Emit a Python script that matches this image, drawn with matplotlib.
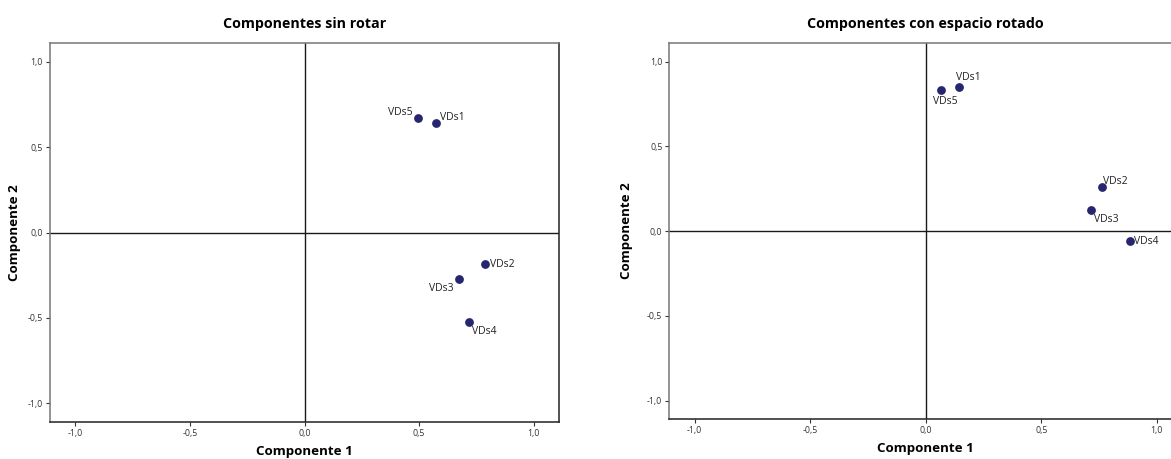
import matplotlib.pyplot as plt

plt.rcParams['font.family'] = ['Open Sans', 'DejaVu Sans']

labels = ["VDs1", "VDs2", "VDs3", "VDs4", "VDs5"]

# component loadings
sin_rotar_c1 = [0.574, 0.785, 0.675, 0.718, 0.497]
sin_rotar_c2 = [0.643, -0.182, -0.273, -0.522, 0.669]

rotado_c1 = [0.144, 0.761, 0.716, 0.884, 0.066]
rotado_c2 = [0.848, 0.260, 0.126, -0.061, 0.830]

ticks = [-1.0, -0.5, 0.0, 0.5, 1.0]
tick_labels = ["-1,0", "-0,5", "0,0", "0,5", "1,0"]

# label offsets (points) and alignment for each point
offs_left = [(3, 0, "left", "bottom"), (4, -1, "left", "center"),
             (-4, -3, "right", "top"), (2, -3, "left", "top"),
             (-4, 0, "right", "bottom")]
offs_right = [(-2, 3, "left", "bottom"), (1, 0, "left", "bottom"),
              (2, -3, "left", "top"), (3, 0, "left", "center"),
              (-6, -4, "left", "top")]

fig = plt.figure(figsize=(11.71, 4.59), dpi=100)
ax1 = fig.add_axes([0.0427, 0.0806, 0.4347, 0.8257])
ax2 = fig.add_axes([0.5716, 0.0865, 0.4380, 0.8198])

panels = [
    (ax1, sin_rotar_c1, sin_rotar_c2, offs_left, "Componentes sin rotar", -0.057),
    (ax2, rotado_c1, rotado_c2, offs_right, "Componentes con espacio rotado", -0.071),
]

for ax, xs, ys, offs, title, ylab_x in panels:
    ax.axhline(0, color="#1a1a1a", linewidth=1.0, zorder=1)
    ax.axvline(0, color="#1a1a1a", linewidth=1.0, zorder=1)
    ax.scatter(xs, ys, s=28, color="#25266e", zorder=3)
    for lab, x, y, (dx, dy, ha, va) in zip(labels, xs, ys, offs):
        ax.annotate(lab, (x, y), xytext=(dx, dy), textcoords="offset points",
                    ha=ha, va=va, fontsize=7.5, color="#222222")
    ax.set_xlim(-1.11, 1.11)
    ax.set_ylim(-1.11, 1.11)
    ax.set_xticks(ticks)
    ax.set_xticklabels(tick_labels)
    ax.set_yticks(ticks)
    ax.set_yticklabels(tick_labels)
    ax.tick_params(labelsize=6.3, length=3, width=0.8, colors="#333333", pad=2)
    for side in ["top", "left"]:
        ax.spines[side].set_color("#777777")
    for side in ["bottom", "right"]:
        ax.spines[side].set_color("#222222")
    for sp in ax.spines.values():
        sp.set_linewidth(1.1)
    ax.set_title(title, fontsize=10.3, fontweight="bold", pad=11)
    ax.set_xlabel("Componente 1", fontsize=9.6, fontweight="bold", labelpad=5)
    ax.set_ylabel("Componente 2", fontsize=9.6, fontweight="bold")
    ax.yaxis.set_label_coords(ylab_x, 0.5)

fig.savefig("out.png", dpi=100)
